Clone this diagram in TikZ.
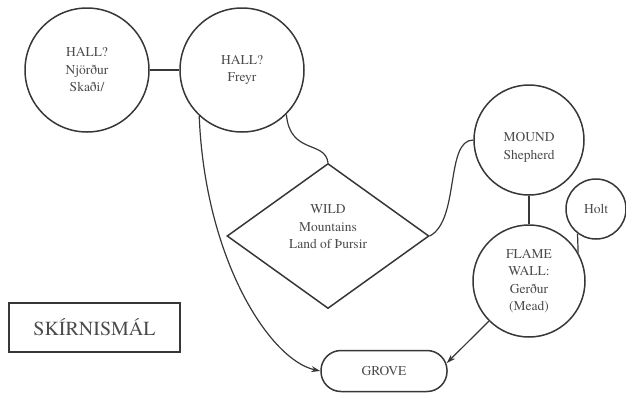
\documentclass[tikz,border=0pt]{standalone}
\usepackage{fontspec}
\setmainfont{TeX Gyre Termes}
\usetikzlibrary{shapes.geometric, arrows.meta}
\definecolor{ink}{RGB}{55, 55, 55}
\definecolor{ink_text}{RGB}{75, 75, 75}
\def \BodyFont {\fontsize{13.5}{17.5}\selectfont}

\begin{document}
\begin{tikzpicture}[
    x=1pt, y=-1pt,
    % Node styles
    realm/.style={
        circle,
        draw=ink,
        line width=1.5pt,
        text=ink_text,
        minimum size=#1,
        inner sep=0pt,
        align=center,
        font=\BodyFont
    },
    wild/.style={
        diamond,
        draw=ink,
        line width=1.5pt,
        minimum width=202pt,
        minimum height=145pt,
        inner sep=0pt
    },
    plain/.style={
        text=ink_text,
        align=center,
        font=\BodyFont
    },
    grovebox/.style={
        rectangle,
        draw=ink,
        line width=1.5pt,
        rounded corners=20pt,
        minimum width=126pt,
        minimum height=41pt,
        text=ink_text,
        font=\BodyFont
    },
    titlebox/.style={
        rectangle,
        draw=ink,
        line width=1.5pt,
        minimum width=171pt,
        minimum height=49pt,
        text=ink_text,
        font=\fontsize{20}{24}\selectfont
    },
    link/.style={
        draw=ink,
        line width=1.2pt
    },
    arrow/.style={
        -{Stealth[length=9pt, width=6pt]},
        draw=ink,
        line width=1.2pt
    }
]
\useasboundingbox (0,0) rectangle (626,394);

% Position nodes
\node[realm=124pt] (njord) at (87,70) {HALL?\\Njörður\\Skaði/};
\node[realm=124pt] (freyr) at (242,70) {HALL?\\Freyr};
\node[wild] (wild) at (328,236) {};
\node[plain] (wildtxt) at (328,227) {WILD\\Mountains\\Land of Þursir};
\node[realm=110pt] (mound) at (529,140) {\rule{0pt}{24pt}MOUND\\Shepherd};
\node[realm=112pt] (flame) at (529,281) {FLAME\\WALL:\\Gerður\\(Mead)};
\node[realm=60pt] (holt) at (596,209) {Holt};
\node[grovebox] (grove) at (384,371) {GROVE};
\node[titlebox] (title) at (94.5,327.5) {SKÍRNISMÁL};

\draw[link] (njord.east) -- (freyr.west);
\draw[link] (freyr.-45) .. controls (290,155) and (325,140) .. (wild.north);
\draw[link] (wild.east) .. controls (460,220) and (445,140) .. (mound.west);
\draw[link] (mound.south) -- (flame.north);
\draw[link] (holt.233) -- (flame.30);

\draw[arrow] (freyr.-133) .. controls (205,260) and (270,360) .. (grove.west);
\draw[arrow] (flame.-135) -- ([xshift=-1pt, yshift=8pt]grove.east);

\end{tikzpicture}
\end{document}
